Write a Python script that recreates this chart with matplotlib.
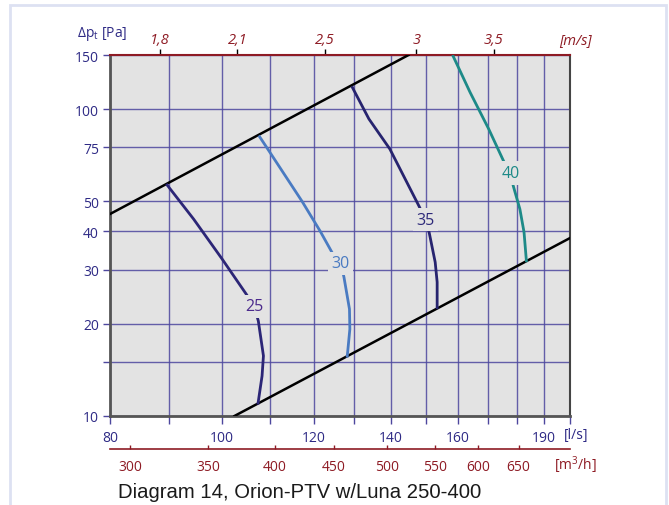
import numpy as np
import matplotlib
matplotlib.use("Agg")
import matplotlib.pyplot as plt
from matplotlib.ticker import NullFormatter, NullLocator
from matplotlib.patches import Rectangle

# ---- data -------------------------------------------------------------
flow_ticks = [80, 100, 120, 140, 160, 190]                 # l/s, labelled
flow_grid = [80, 90, 100, 110, 120, 130, 140, 150, 160, 170, 180, 190, 200]
pressure_ticks = [10, 20, 30, 40, 50, 75, 100, 150]        # Pa, labelled
pressure_minor = [15]
velocity_ticks = [1.8, 2.1, 2.5, 3.0, 3.5]                 # m/s
velocity_labels = ["1,8", "2,1", "2,5", "3", "3,5"]
m3h_ticks = [300, 350, 400, 450, 500, 550, 600, 650]       # m3/h

# working range limits (system lines)
upper_q = [80, 145]
upper_p = [45.5, 150]
lower_q = [102.5, 200]
lower_p = [10, 38]

# sound power curves (l/s, Pa)
curve25_q = [89.5, 94.5, 100.0, 104.9, 106.6, 107.5, 108.6, 108.3, 107.4]
curve25_p = [57.0, 43.8, 32.5, 25.0, 22.8, 20.4, 15.7, 13.5, 10.9]
curve30_q = [107.6, 109.3, 117.3, 121.6, 124.5, 126.7, 127.5, 128.9, 129.0, 128.3]
curve30_p = [82.0, 75.0, 50.0, 40.0, 34.1, 31.5, 28.3, 22.3, 19.2, 15.5]
curve35_q = [129.5, 134.0, 139.7, 148.0, 150.0, 151.1, 152.9, 153.5, 153.5]
curve35_p = [118.6, 92.8, 74.1, 48.4, 43.6, 39.5, 31.7, 27.3, 22.3]
curve40_q = [158.3, 163.9, 170.1, 175.7, 177.8, 178.6, 181.0, 182.5, 183.4]
curve40_p = [150.0, 113.4, 86.1, 66.2, 61.9, 56.3, 47.2, 39.7, 31.7]

curve_labels = ["25", "30", "35", "40"]
label_q = [106.6, 126.7, 150.0, 177.8]
label_p = [22.8, 31.5, 43.6, 61.9]

# ---- styling ----------------------------------------------------------
NAVY = "#2e2a85"
RED = "#8e1b24"
GRID = "#4d479e"
BG = "#e3e3e3"
curve_colors = ["#2c2677", "#4a7bc2", "#27246f", "#1d8a88"]
label_colors = ["#4b2a8c", "#4a7bc2", "#2e2a7a", "#1d8a88"]

plt.rcParams["font.family"] = ["Open Sans", "DejaVu Sans"]
plt.rcParams["mathtext.fontset"] = "custom"
plt.rcParams["mathtext.rm"] = "Open Sans"
plt.rcParams["mathtext.it"] = "Open Sans"

DUCT_AREA = np.pi * 0.125 ** 2   # m2, Ø250 duct


def ls_to_ms(q):
    return np.asarray(q) / 1000.0 / DUCT_AREA


def ms_to_ls(v):
    return np.asarray(v) * 1000.0 * DUCT_AREA


def ls_to_m3h(q):
    return np.asarray(q) * 3.6


def m3h_to_ls(v):
    return np.asarray(v) / 3.6


fig = plt.figure(figsize=(6.69, 5.06), dpi=100)
ax = fig.add_axes([110 / 669, 1 - 417 / 506, 460 / 669, 361 / 506])
ax.set_facecolor(BG)
ax.set_xscale("log")
ax.set_yscale("log")
ax.set_xlim(80, 200)
ax.set_ylim(10, 150)

# ticks & grid
ax.set_xticks(flow_ticks, labels=[str(v) for v in flow_ticks])
ax.set_xticks([v for v in flow_grid if v not in flow_ticks], minor=True)
ax.xaxis.set_minor_formatter(NullFormatter())
ax.set_yticks(pressure_ticks, labels=[str(v) for v in pressure_ticks])
ax.set_yticks(pressure_minor, minor=True)
ax.yaxis.set_minor_formatter(NullFormatter())
ax.grid(True, which="both", color=GRID, lw=1.0, alpha=0.85, zorder=1)
ax.set_axisbelow(True)
ax.tick_params(axis="x", which="both", direction="out", length=6, width=1,
               color=GRID, labelcolor=NAVY, labelsize=10, pad=4)
ax.tick_params(axis="y", which="both", direction="out", length=5, width=1,
               color=GRID, labelcolor=NAVY, labelsize=10, pad=3)

for side in ("left", "bottom"):
    ax.spines[side].set_color("#555555")
    ax.spines[side].set_linewidth(2)
ax.spines["right"].set_color("#444444")
ax.spines["right"].set_linewidth(1.5)
ax.spines["top"].set_color(RED)
ax.spines["top"].set_linewidth(1.5)

# system lines
ax.plot(upper_q, upper_p, color="black", lw=1.8, zorder=3)
ax.plot(lower_q, lower_p, color="black", lw=1.8, zorder=3)

# curves
for q, p, c in zip([curve25_q, curve30_q, curve35_q, curve40_q],
                   [curve25_p, curve30_p, curve35_p, curve40_p], curve_colors):
    ax.plot(q, p, color=c, lw=2.0, zorder=4, solid_capstyle="butt",
            solid_joinstyle="round")

for txt, q, p, c in zip(curve_labels, label_q, label_p, label_colors):
    ax.text(q, p, txt, color=c, fontsize=11.5, ha="center", va="center",
            zorder=5, bbox=dict(facecolor=BG, edgecolor="none", pad=2.5))

# top velocity axis
top = ax.secondary_xaxis("top", functions=(ls_to_ms, ms_to_ls))
top.set_xticks(velocity_ticks, labels=velocity_labels)
top.xaxis.set_minor_locator(NullLocator())
top.tick_params(direction="out", length=4, width=1, color="black",
                labelcolor=RED, labelsize=10.5, pad=2)
for lab in top.get_xticklabels():
    lab.set_fontstyle("italic")
top.spines["top"].set_visible(False)

# bottom m3/h axis
bot = ax.secondary_xaxis(-33 / 361, functions=(ls_to_m3h, m3h_to_ls))
bot.set_xticks(m3h_ticks, labels=[str(v) for v in m3h_ticks])
bot.xaxis.set_minor_locator(NullLocator())
bot.tick_params(direction="in", length=3, width=1, color=RED,
                labelcolor=RED, labelsize=10, pad=7)
bot.spines["bottom"].set_color(RED)
bot.spines["bottom"].set_linewidth(1.2)

# unit labels
fig.text(576 / 669, 1 - 436 / 506, "[l/s]", color=NAVY, fontsize=10,
         ha="center", va="center")
fig.text(575 / 669, 1 - 465 / 506, r"[m$^3$/h]", color=RED, fontsize=10,
         ha="center", va="center")
fig.text(575 / 669, 1 - 41 / 506, "[m/s]", color=RED, fontsize=10.5,
         ha="center", va="center", fontstyle="italic")
fig.text(102 / 669, 1 - 34 / 506, r"$\Delta$p$_{\mathrm{t}}$ [Pa]", color=NAVY,
         fontsize=10, ha="center", va="center")

fig.text(118 / 669, 1 - 493 / 506, "Diagram 14, Orion-PTV w/Luna 250-400",
         fontsize=14.6, family="Liberation Sans", color="#1a1a1a",
         ha="left", va="center")

# light page frame
fig.patches.append(Rectangle((10 / 669, -0.05), 656 / 669, 1.05 - 6 / 506,
                             transform=fig.transFigure, fill=False,
                             edgecolor="#dde1f2", lw=2))

fig.savefig("out.png", dpi=100, facecolor="white")
